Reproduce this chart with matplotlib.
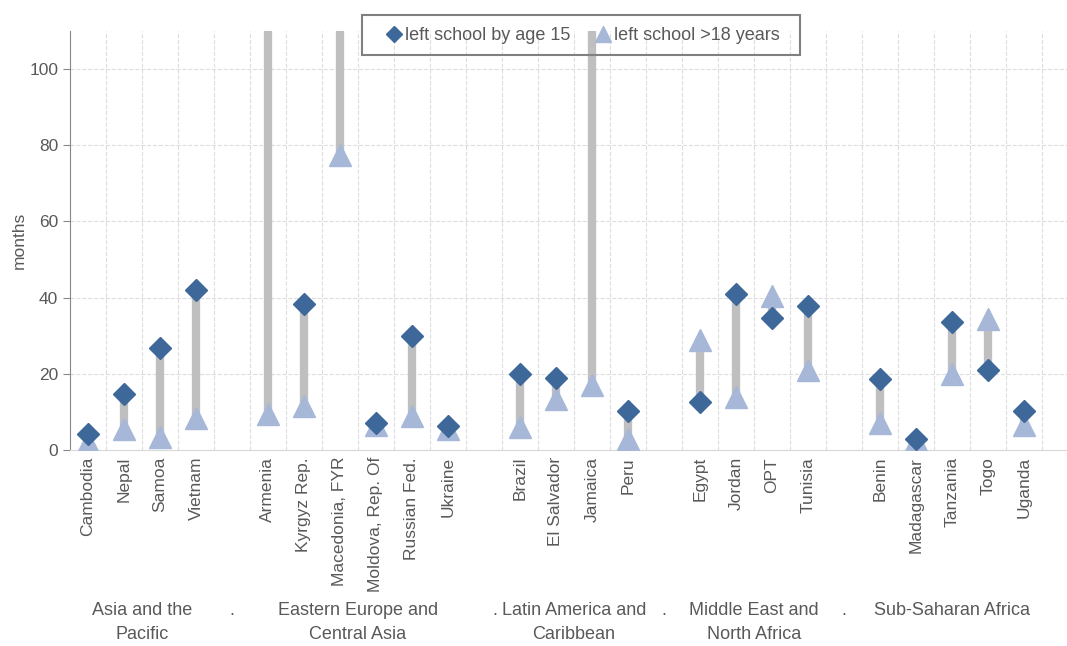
import matplotlib
matplotlib.use("Agg")
import matplotlib.pyplot as plt
import matplotlib.transforms as mtrans
from matplotlib.patches import Rectangle
import numpy as np

# data (months)
countries = ["Cambodia", "Nepal", "Samoa", "Vietnam", "",
             "Armenia", "Kyrgyz Rep.", "Macedonia, FYR", "Moldova, Rep. Of", "Russian Fed.", "Ukraine", "",
             "Brazil", "El Salvador", "Jamaica", "Peru", "",
             "Egypt", "Jordan", "OPT", "Tunisia", "",
             "Benin", "Madagascar", "Tanzania", "Togo", "Uganda"]
age15 = [4.2, 14.7, 26.8, 42.0, None,
         135.0, 38.3, 150.0, 7.0, 29.8, 6.2, None,
         20.0, 19.0, 125.0, 10.2, None,
         12.6, 40.9, 34.7, 37.9, None,
         18.6, 2.8, 33.6, 21.0, 10.2]
over18 = [2.0, 5.5, 3.5, 8.5, None,
          9.5, 11.5, 77.5, 6.5, 9.0, 5.5, None,
          6.0, 13.5, 17.0, 3.0, None,
          29.0, 14.0, 40.5, 21.0, None,
          7.0, 2.5, 20.0, 34.5, 6.5]
groups = ["Asia and the\nPacific", "Eastern Europe and\nCentral Asia", "Latin America and\nCaribbean",
          "Middle East and\nNorth Africa", "Sub-Saharan Africa"]

c_dia = "#3D6899"
c_tri = "#A6B7D8"
c_bar = "#BFBFBF"
c_txt = "#595959"

plt.rcParams['font.family'] = ['Liberation Sans', 'DejaVu Sans']

fig = plt.figure(figsize=(10.67, 6.46), dpi=100)
ax = fig.add_axes([70 / 1067, 1 - 450 / 646, 1 - 70 / 1067, (450 - 31) / 646])

x = np.arange(len(countries))
idx = [i for i, c in enumerate(countries) if c]
a = np.array([age15[i] for i in idx])
b = np.array([over18[i] for i in idx])
xi = x[idx]

ax.vlines(xi, np.minimum(a, b), np.maximum(a, b), color=c_bar, lw=6, zorder=2)
ax.plot(xi, b, ls="none", marker="^", ms=15.5, color=c_tri, zorder=3, label="left school >18 years")
ax.plot(xi, a, ls="none", marker="D", ms=11.5, color=c_dia, zorder=4, label="left school by age 15")

ax.set_xlim(-0.5, 27.2)
ax.set_ylim(0, 110)
ax.set_yticks(range(0, 101, 20))
ax.set_xticks(x)
ax.set_xticklabels(countries, rotation=90, fontsize=12.5, color=c_txt)
ax.tick_params(axis="x", length=0, pad=5)
ax.tick_params(axis="y", labelsize=12.5, colors=c_txt, length=5, color="#888888")
ax.set_ylabel("months", fontsize=12.5, color=c_txt, labelpad=2)

ax.grid(axis="y", ls="--", color="#DDDDDD", lw=0.8)
for bx in np.arange(0.5, 27, 1.0):
    ax.axvline(bx, ls="--", color="#DDDDDD", lw=0.8, zorder=1)
ax.set_axisbelow(True)
for s in ["top", "right"]:
    ax.spines[s].set_visible(False)
ax.spines["left"].set_color("#888888")
ax.spines["bottom"].set_color("#D9D9D9")

# group labels under the country names
centers = [1.5, 7.5, 13.5, 18.5, 24.0]
dots = [4, 11.3, 16, 21]
gtr = mtrans.blended_transform_factory(ax.transData, fig.transFigure)
for c, g in zip(centers, groups):
    ax.text(c, 1 - 602 / 646, g, transform=gtr, ha="center", va="top",
            fontsize=13, color=c_txt, linespacing=1.55)
for d in dots:
    ax.text(d, 1 - 602 / 646, ".", transform=gtr, ha="center", va="top",
            fontsize=13, color=c_txt)

# legend: open frame drawn by hand, plot shows through it
fig.patches.append(Rectangle((362 / 1067, 1 - 55 / 646), (800 - 362) / 1067, 40 / 646,
                             transform=fig.transFigure, fill=False,
                             edgecolor="#808080", lw=1.5, zorder=9))
h, l = ax.get_legend_handles_labels()
leg = fig.legend(h[::-1], l[::-1], ncol=2, loc="center", bbox_to_anchor=(584 / 1067, 1 - 36 / 646),
                 fontsize=13, frameon=False,
                 handlelength=0.6, handletextpad=0.3, columnspacing=1.5, borderpad=0.5,
                 markerscale=0.75)
for t in leg.get_texts():
    t.set_color(c_txt)
leg.set_zorder(10)

fig.savefig("out.png", dpi=100)
